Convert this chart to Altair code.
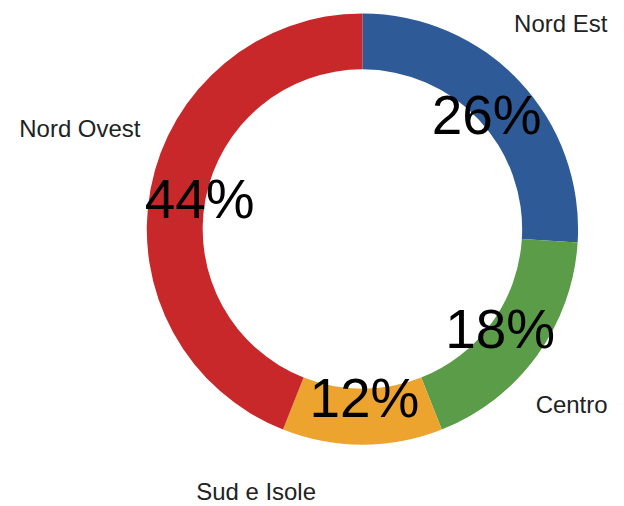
import altair as alt
import pandas as pd

categorie = ["Nord Est", "Centro", "Sud e Isole", "Nord Ovest"]
percentuali = [26, 18, 12, 44]
etichette = ["26%", "18%", "12%", "44%"]
ordine = [1, 2, 3, 4]
colori = ["#2E5B97", "#5A9C47", "#EDA42F", "#C8282A"]

df = pd.DataFrame({
    "categoria": categorie,
    "valore": percentuali,
    "etichetta": etichette,
    "ordine": ordine,
})

theta_scale = alt.Scale(domain=[0, 100])

base = alt.Chart(df).transform_window(
    fine="sum(valore)", sort=[alt.SortField("ordine")], frame=[None, 0]
).transform_calculate(
    inizio="datum.fine - datum.valore",
    medio="datum.fine - datum.valore / 2",
)

arc = base.mark_arc(radius=216, innerRadius=160).encode(
    theta=alt.Theta("inizio:Q", scale=theta_scale),
    theta2="fine:Q",
    color=alt.Color("categoria:N", scale=alt.Scale(domain=categorie, range=colori), legend=None),
)

perc = base.mark_text(
    radius=168, fontSize=55, font="Liberation Sans", color="#000000",
    align="center", baseline="middle", dx=2, dy=3,
).encode(
    theta=alt.Theta("medio:Q", scale=theta_scale),
    text="etichetta:N",
)

# label offsets (style tweaks) relative to a radial position at r=280
offset = {
    "Nord Est": (-5.5, -12.4),
    "Centro": (-17, 12.4),
    "Sud e Isole": (-106.5, -16),
    "Nord Ovest": (-8, -46.5),
}

layers = [arc, perc]
for c in categorie:
    dx, dy = offset[c]
    layers.append(
        base.transform_filter(alt.datum.categoria == c).mark_text(
            radius=280, fontSize=24, font="Liberation Sans", color="#222222",
            align="center", baseline="middle", dx=dx, dy=dy,
        ).encode(
            theta=alt.Theta("medio:Q", scale=theta_scale),
            text="categoria:N",
        )
    )

chart = alt.layer(*layers).properties(
    width=508,
    height=442,
    padding={"left": 101, "top": 0, "right": 0, "bottom": 54},
    autosize="none",
    background="white",
).configure_view(stroke=None)

chart.save("out.html", embed_options={"renderer": "svg", "actions": False})
